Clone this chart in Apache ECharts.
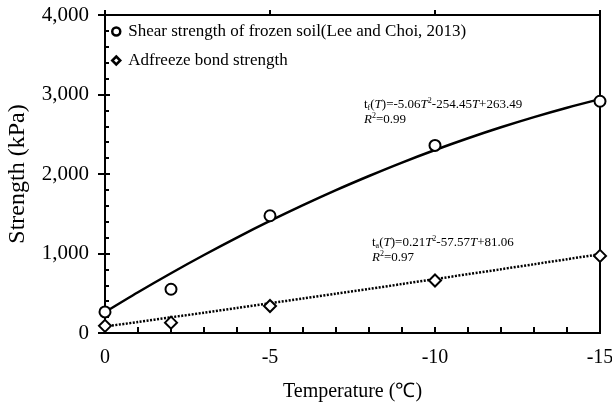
<!DOCTYPE html>
<html>
<head>
<meta charset="utf-8">
<script src="https://cdn.jsdelivr.net/npm/echarts@6/dist/echarts.min.js"></script>
<style>html,body{margin:0;padding:0;background:#fff}#c{width:612px;height:405px}</style>
</head>
<body>
<div id="c"></div>
<script>
// measured data
const temps = [0, -2, -5, -10, -15];
const shearStrength = [265, 550, 1475, 2360, 2915];
const adfreezeStrength = [90, 130, 340, 660, 970];
// trend lines read from the plotted fits
const fitTemps = [0, -1, -2, -3, -4, -5, -6, -7, -8, -9, -10, -11, -12, -13, -14, -15];
const shearFit = [263, 513, 752, 981, 1200, 1409, 1608, 1797, 1975, 2144, 2302, 2450, 2588, 2716, 2834, 2942];
const adfreezeFit = [81, 139, 197, 256, 315, 374, 434, 494, 555, 616, 678, 740, 802, 865, 928, 992];
const seriesNames = ['Shear strength of frozen soil(Lee and Choi, 2013)', 'Adfreeze bond strength'];
const xTitle = 'Temperature (℃)';
const yTitle = 'Strength (kPa)';

const F = 'Liberation Serif';
const pairs = (xs, ys) => xs.map((x, i) => [x, ys[i]]);
const commas = v => String(v).replace(/\B(?=(\d{3})+(?!\d))/g, ',');

const chart = echarts.init(document.getElementById('c'), null, {renderer: 'canvas'});

const xBase = {
  type: 'value', min: -15, max: 0, interval: 5, inverse: true, gridIndex: 0,
  splitLine: {show: false},
  axisLine: {show: true, onZero: false, lineStyle: {color: '#000', width: 2}}
};
const yBase = {
  type: 'value', min: 0, max: 4000, interval: 1000, gridIndex: 0,
  splitLine: {show: false},
  axisLine: {show: true, onZero: false, lineStyle: {color: '#000', width: 2}}
};

const rich = {
  n: {fontFamily: F, fontSize: 13, color: '#000', lineHeight: 15},
  i: {fontFamily: F, fontSize: 13, fontStyle: 'italic', color: '#000', lineHeight: 15},
  sup: {fontFamily: F, fontSize: 8, color: '#000', verticalAlign: 'top', lineHeight: 15},
  sub: {fontFamily: F, fontSize: 8, color: '#000', verticalAlign: 'bottom', lineHeight: 15}
};

chart.setOption({
  animation: false,
  backgroundColor: '#fff',
  grid: {left: 105, right: 12, top: 15, bottom: 72, containLabel: false, outerBoundsMode: 'none',
         show: true, borderColor: '#000', borderWidth: 2},
  xAxis: [
    Object.assign({}, xBase, {
      axisTick: {show: true, inside: true, length: 6, lineStyle: {color: '#000', width: 2}},
      minorTick: {show: true, splitNumber: 5, length: 6, lineStyle: {color: '#000', width: 2}},
      axisLabel: {show: true, margin: 15, color: '#000', fontFamily: F, fontSize: 20},
      name: xTitle, nameLocation: 'middle', nameGap: 49,
      nameTextStyle: {color: '#000', fontFamily: F, fontSize: 20}
    }),
    Object.assign({}, xBase, {
      axisTick: {show: true, inside: false, length: 5, lineStyle: {color: '#000', width: 2}},
      axisLabel: {show: false}
    })
  ],
  yAxis: [
    Object.assign({}, yBase, {
      axisTick: {show: true, inside: true, length: 5, lineStyle: {color: '#000', width: 2}},
      minorTick: {show: true, splitNumber: 5, length: 4, lineStyle: {color: '#000', width: 2}},
      axisLabel: {show: true, margin: 16, color: '#000', fontFamily: F, fontSize: 21, formatter: commas},
      name: yTitle, nameLocation: 'middle', nameGap: 75,
      nameTextStyle: {color: '#000', fontFamily: F, fontSize: 24}
    }),
    Object.assign({}, yBase, {
      position: 'left',
      axisTick: {show: true, inside: false, length: 7, lineStyle: {color: '#000', width: 2}},
      axisLabel: {show: false}
    })
  ],
  legend: {
    show: true, orient: 'vertical', left: 106, top: 18, itemGap: 12,
    itemWidth: 8, itemHeight: 8,
    data: seriesNames,
    itemStyle: {borderWidth: 2.5},
    textStyle: {color: '#000', fontFamily: F, fontSize: 17, padding: [0, 0, 0, 3]}
  },
  series: [
    {
      name: seriesNames[0] + ' fit', type: 'line', data: pairs(fitTemps, shearFit),
      smooth: 0.3, showSymbol: false, symbol: 'none', silent: true, z: 2,
      lineStyle: {color: '#000', width: 2.5, type: 'solid'}
    },
    {
      name: seriesNames[1] + ' fit', type: 'line', data: pairs(fitTemps, adfreezeFit),
      smooth: 0.3, showSymbol: false, symbol: 'none', silent: true, z: 2,
      lineStyle: {color: '#000', width: 2.5, type: [2, 1.5]}
    },
    {
      name: seriesNames[0], type: 'scatter', data: pairs(temps, shearStrength),
      symbol: 'circle', symbolSize: 11, z: 3,
      itemStyle: {color: '#fff', borderColor: '#000', borderWidth: 2, opacity: 1}
    },
    {
      name: seriesNames[1], type: 'scatter', data: pairs(temps, adfreezeStrength),
      symbol: 'diamond', symbolSize: 12, z: 3,
      itemStyle: {color: '#fff', borderColor: '#000', borderWidth: 2, opacity: 1}
    }
  ],
  graphic: [
    {
      type: 'text', left: 364, top: 97, z: 10,
      style: {
        text: '{n|t}{sub|f}{n|(}{i|T}{n|)=-5.06}{i|T}{sup|2}{n|-254.45}{i|T}{n|+263.49}\n{i|R}{sup|2}{n|=0.99}',
        rich: rich, fill: '#000'
      }
    },
    {
      type: 'text', left: 372, top: 235, z: 10,
      style: {
        text: '{n|t}{sub|a}{n|(}{i|T}{n|)=0.21}{i|T}{sup|2}{n|-57.57}{i|T}{n|+81.06}\n{i|R}{sup|2}{n|=0.97}',
        rich: rich, fill: '#000'
      }
    }
  ]
});
</script>
</body>
</html>
